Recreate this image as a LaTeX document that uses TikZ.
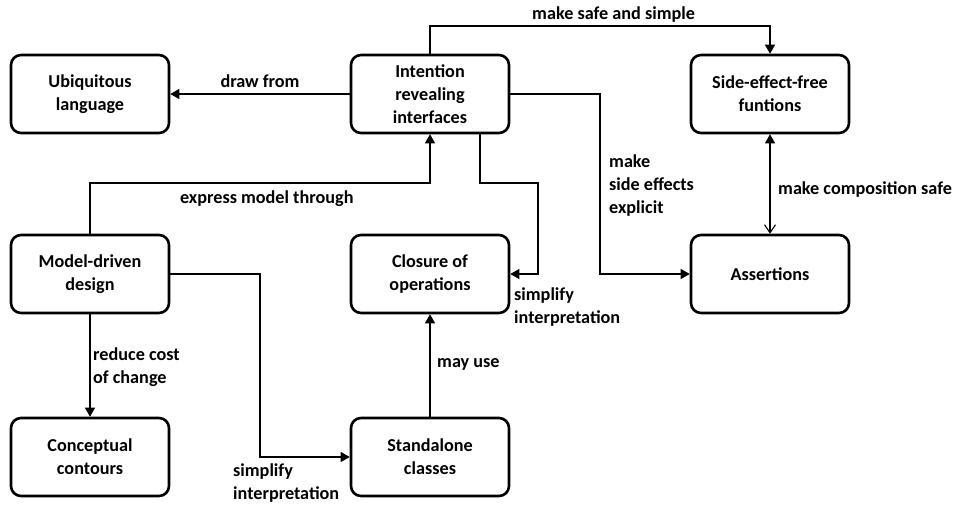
\documentclass[tikz,border=0pt]{standalone}
\usepackage{fontspec}
\setmainfont{Carlito}
\usetikzlibrary{arrows.meta}
\begin{document}
\begin{tikzpicture}[x=1pt,y=-1pt,
  font=\fontsize{18.2}{23}\selectfont\bfseries,
  concept/.style={draw, line width=2.6pt, rounded corners=10pt,
    minimum width=158pt, minimum height=78pt, align=center, inner sep=2pt},
  link/.style={line width=1.1pt, -{Triangle[length=9pt,width=10pt]}},
  lbl/.style={inner sep=0pt, align=left}]
\useasboundingbox (0,0) rectangle (955,505);

% concept boxes
\node[concept] (ubi)     at (90,94)  {Ubiquitous\\language};
\node[concept] (intent)  at (430,94) {Intention\\revealing\\interfaces};
\node[concept] (sef)     at (770,94) {Side-effect-free\\funtions};
\node[concept] (mdd)     at (90,274) {Model-driven\\design};
\node[concept] (clos)    at (430,274) {Closure of\\operations};
\node[concept] (assert)  at (770,274) {Assertions};
\node[concept] (contour) at (90,457) {Conceptual\\contours};
\node[concept] (stand)   at (430,457) {Standalone\\classes};

% relations
\draw[link] (intent.west) -- node[above=2pt]{draw from} (ubi.east);
\draw[link] (intent.north) -- (430,26) -| node[pos=0.27, above=0pt]{make safe and simple} (sef.north);
\draw[link] (intent.east) -- (600,94) |- (assert.west);
\node[lbl, anchor=north west] (lsef) at (609,155) {make\\side effects\\explicit};
\draw[link] ([xshift=50pt]intent.south) |- (538,183) |- (clos.east);
\node[lbl, anchor=north west] (lclos) at (514,288) {simplify\\interpretation};
\draw[link] (mdd.north) -- (90,183) -| node[pos=0.26, below=4pt]{express model through} (intent.south);
\draw[link] (mdd.east) -| (260,457) -- (stand.west);
\node[lbl, anchor=north west] (lstand) at (233,464) {simplify\\interpretation};
\draw[link] (mdd.south) -- (contour.north);
\node[lbl, anchor=north west] (lcost) at (93,348) {reduce cost\\of change};
\draw[link] (stand.north) -- (clos.south);
\node[lbl, anchor=west] (luse) at (437,364) {may use};
\draw[line width=1.1pt, {Triangle[length=9pt,width=10pt]}-{Straight Barb[length=8pt,width=11pt]}] (sef.south) -- (assert.north);
\node[lbl, anchor=west] (lcomp) at (778,190) {make composition safe};
\end{tikzpicture}
\end{document}
